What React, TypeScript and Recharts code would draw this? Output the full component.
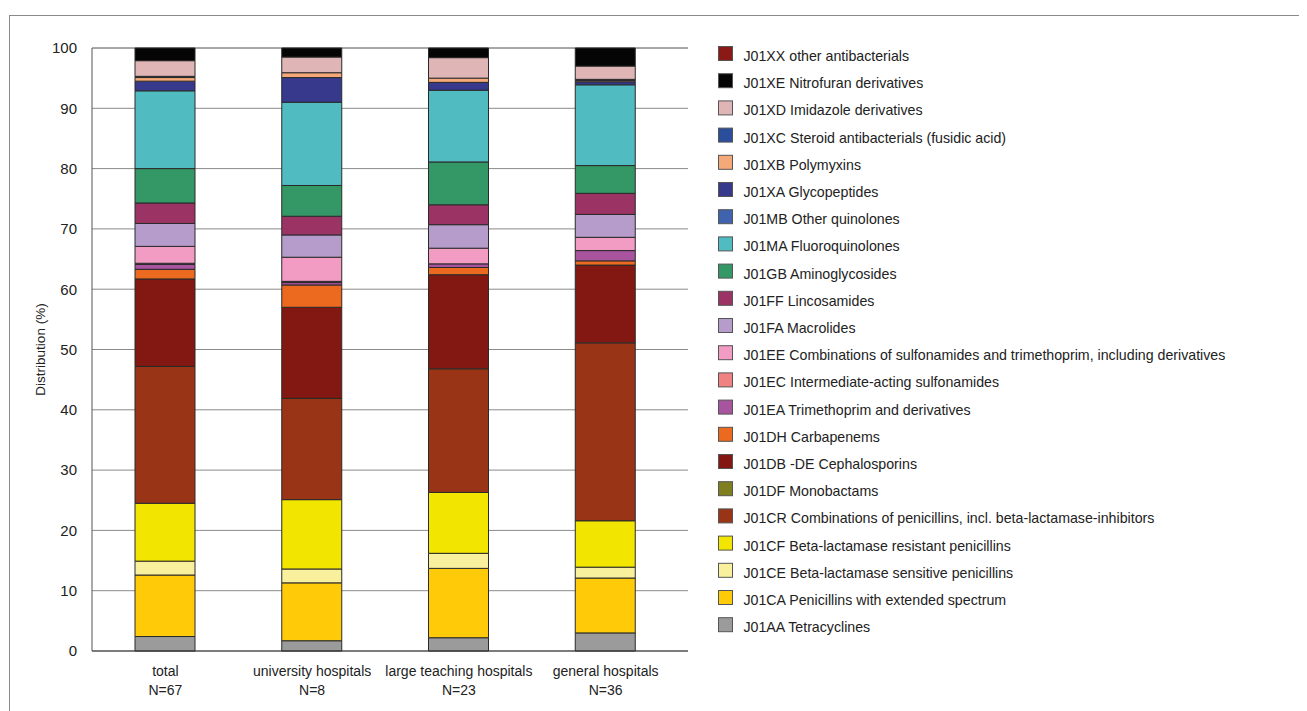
import React from 'react';
import { BarChart, Bar, XAxis, YAxis, CartesianGrid, Label } from 'recharts';

const categories = ['total', 'university hospitals', 'large teaching hospitals', 'general hospitals'];
const nLabels = ['N=67', 'N=8', 'N=23', 'N=36'];
const yTicks = [0, 10, 20, 30, 40, 50, 60, 70, 80, 90, 100];

// values per category (total, university, large teaching, general), bottom to top
const AA = [2.4, 1.7, 2.2, 3.0];
const CA = [10.2, 9.6, 11.5, 9.1];
const CE = [2.3, 2.3, 2.5, 1.8];
const CF = [9.6, 11.5, 10.1, 7.7];
const CR = [22.7, 16.8, 20.5, 29.5];
const DF = [0, 0, 0, 0];
const DB = [14.5, 15.1, 15.6, 12.9];
const DH = [1.6, 3.7, 1.2, 0.7];
const EA = [0.8, 0.4, 0.6, 1.7];
const EC = [0.2, 0.2, 0, 0];
const EE = [2.8, 4.0, 2.6, 2.2];
const FA = [3.8, 3.7, 3.9, 3.8];
const FF = [3.4, 3.1, 3.3, 3.5];
const GB = [5.7, 5.1, 7.1, 4.6];
const MA = [12.9, 13.8, 11.9, 13.4];
const MB = [0, 0, 0, 0];
const XA = [1.6, 4.1, 1.3, 0.5];
const XB = [0.6, 0.8, 0.7, 0.2];
const XC = [0.2, 0, 0, 0.2];
const XD = [2.6, 2.6, 3.4, 2.2];
const XE = [2.1, 1.5, 1.6, 3.0];
const XX = [0, 0, 0, 0];

type S = { key: string; label: string; color: string; values: number[] };
const series: S[] = [
  { key: 'AA', label: 'J01AA Tetracyclines', color: '#9b9b9b', values: AA },
  { key: 'CA', label: 'J01CA Penicillins with extended spectrum', color: '#ffcb08', values: CA },
  { key: 'CE', label: 'J01CE Beta-lactamase sensitive penicillins', color: '#f9f09e', values: CE },
  { key: 'CF', label: 'J01CF Beta-lactamase resistant penicillins', color: '#f2e500', values: CF },
  { key: 'CR', label: 'J01CR Combinations of penicillins, incl. beta-lactamase-inhibitors', color: '#993516', values: CR },
  { key: 'DF', label: 'J01DF Monobactams', color: '#7f7f20', values: DF },
  { key: 'DB', label: 'J01DB -DE Cephalosporins', color: '#821811', values: DB },
  { key: 'DH', label: 'J01DH Carbapenems', color: '#ec6920', values: DH },
  { key: 'EA', label: 'J01EA Trimethoprim and derivatives', color: '#a8549e', values: EA },
  { key: 'EC', label: 'J01EC Intermediate-acting sulfonamides', color: '#f08282', values: EC },
  { key: 'EE', label: 'J01EE Combinations of sulfonamides and trimethoprim, including derivatives', color: '#f29bc3', values: EE },
  { key: 'FA', label: 'J01FA Macrolides', color: '#b59ccb', values: FA },
  { key: 'FF', label: 'J01FF Lincosamides', color: '#9b3464', values: FF },
  { key: 'GB', label: 'J01GB Aminoglycosides', color: '#349866', values: GB },
  { key: 'MA', label: 'J01MA Fluoroquinolones', color: '#50bcc2', values: MA },
  { key: 'MB', label: 'J01MB Other quinolones', color: '#3f63ae', values: MB },
  { key: 'XA', label: 'J01XA Glycopeptides', color: '#36398c', values: XA },
  { key: 'XB', label: 'J01XB Polymyxins', color: '#f5a978', values: XB },
  { key: 'XC', label: 'J01XC Steroid antibacterials (fusidic acid)', color: '#2b4e9c', values: XC },
  { key: 'XD', label: 'J01XD Imidazole derivatives', color: '#e0b5b5', values: XD },
  { key: 'XE', label: 'J01XE Nitrofuran derivatives', color: '#050505', values: XE },
  { key: 'XX', label: 'J01XX other antibacterials', color: '#8b1a16', values: XX },
];

const data = categories.map((c, i) => {
  const row: Record<string, any> = { name: c, n: nLabels[i] };
  series.forEach((s) => (row[s.key] = s.values[i]));
  return row;
});

const FONT = 'Arial, "Liberation Sans", sans-serif';

const XTick = (props: any) => {
  const { x, y, payload, index } = props;
  return (
    <g>
      <text x={x} y={y + 25} textAnchor="middle" fontSize={14} fill="#222" fontFamily={FONT}>
        {payload.value}
      </text>
      <text x={x} y={y + 44} textAnchor="middle" fontSize={14} fill="#222" fontFamily={FONT}>
        {nLabels[index]}
      </text>
    </g>
  );
};

const legendItems = [...series].reverse();

export default function App() {
  return (
    <div style={{ position: 'relative', width: 1299, height: 703, fontFamily: FONT }}>
      <div
        style={{
          position: 'absolute',
          left: 1,
          top: 7,
          width: 1400,
          height: 800,
          borderLeft: '1px solid #8a8a8a',
          borderTop: '1px solid #8a8a8a',
        }}
      />
      <div style={{ position: 'absolute', left: 0, top: 0 }}>
        <BarChart
          width={700}
          height={700}
          data={data}
          margin={{ top: 40, right: 20, left: 0, bottom: 0 }}
          barSize={60}
          style={{ fontFamily: FONT }}
        >
          <CartesianGrid vertical={false} horizontal stroke="#8a8a8a" strokeWidth={1} />
          <XAxis
            dataKey="name"
            height={57}
            tickLine={false}
            tickSize={0}
            tickMargin={0}
            axisLine={{ stroke: '#333' }}
            padding={{ left: 0, right: 9 }}
            tick={<XTick />}
            interval={0}
          />
          <YAxis
            width={84}
            domain={[0, 100]}
            ticks={yTicks}
            tickLine={false}
            tickSize={0}
            tickMargin={15}
            axisLine={{ stroke: '#555' }}
            tick={{ fontSize: 15, fill: '#222', fontFamily: FONT }}
            interval={0}
          >
            <Label
              content={(p: any) => {
                const vb = p.viewBox;
                const cx = vb.x + 32;
                const cy = vb.y + vb.height / 2;
                return (
                  <text
                    x={cx}
                    y={cy}
                    transform={`rotate(-90 ${cx} ${cy})`}
                    textAnchor="middle"
                    dominantBaseline="central"
                    fontSize={13.5}
                    fill="#222"
                    fontFamily={FONT}
                  >
                    Distribution (%)
                  </text>
                );
              }}
            />
          </YAxis>
          {series.map((s) => (
            <Bar
              key={s.key}
              dataKey={s.key}
              stackId="a"
              fill={s.color}
              stroke="#2a2a2a"
              strokeWidth={1}
              isAnimationActive={false}
            />
          ))}
        </BarChart>
      </div>
      <svg
        style={{ position: 'absolute', left: 0, top: 0 }}
        width={1299}
        height={703}
      >
        {legendItems.map((s, i) => {
          const top = 38 + i * 27.2;
          return (
            <g key={s.key}>
              <rect x={710.5} y={top + 0.5} width={14} height={14} fill={s.color} stroke="#555" strokeWidth={1} />
              <text x={735.5} y={top + 15} fontSize={14.2} fill="#222" fontFamily={FONT}>
                {s.label}
              </text>
            </g>
          );
        })}
      </svg>
    </div>
  );
}
